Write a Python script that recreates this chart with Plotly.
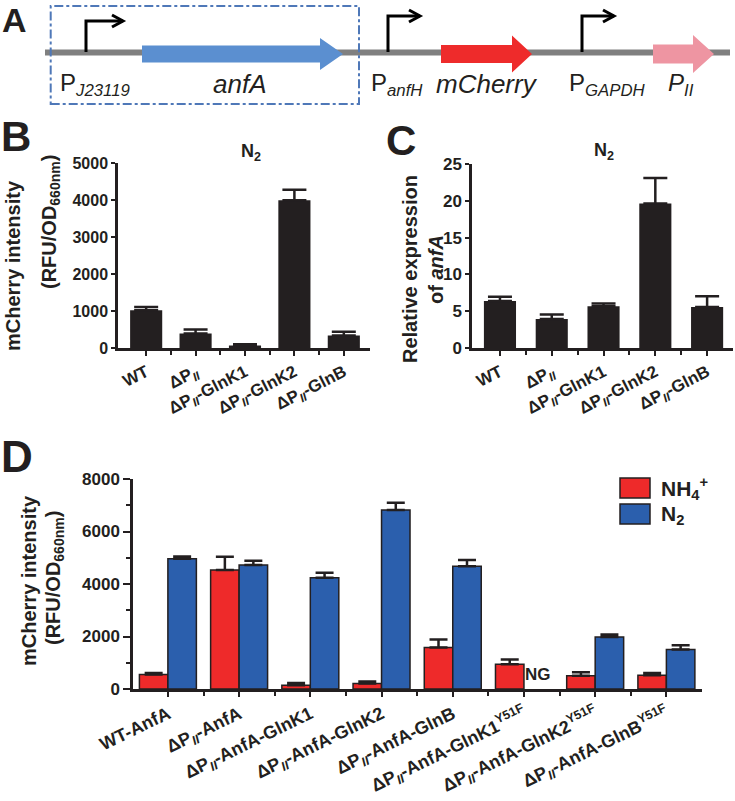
import plotly.graph_objects as go

W, H = 735, 801
INK = "#231F20"
RED = "#EE2A2A"
BLUE = "#2B5FAD"
FONT = "Liberation Sans"

# ---- data ----
b_labels = ["WT", "ΔP<sub><i>II</i></sub>", "ΔP<sub><i>II</i></sub>-GlnK1",
            "ΔP<sub><i>II</i></sub>-GlnK2", "ΔP<sub><i>II</i></sub>-GlnB"]
b_values = [1020, 390, 70, 3990, 340]
b_errors = [90, 110, 30, 290, 100]

c_labels = b_labels
c_values = [6.4, 3.95, 5.67, 19.65, 5.58]
c_errors = [0.55, 0.6, 0.36, 3.45, 1.45]

d_labels = ["WT-AnfA", "ΔP<sub><i>II</i></sub>-AnfA", "ΔP<sub><i>II</i></sub>-AnfA-GlnK1",
            "ΔP<sub><i>II</i></sub>-AnfA-GlnK2", "ΔP<sub><i>II</i></sub>-AnfA-GlnB",
            "ΔP<sub><i>II</i></sub>-AnfA-GlnK1<sup>Y51F</sup>",
            "ΔP<sub><i>II</i></sub>-AnfA-GlnK2<sup>Y51F</sup>",
            "ΔP<sub><i>II</i></sub>-AnfA-GlnB<sup>Y51F</sup>"]
d_nh4 = [550, 4530, 140, 205, 1580, 940, 500, 520]
d_nh4_err = [60, 510, 90, 85, 305, 180, 140, 90]
d_n2 = [4960, 4720, 4240, 6820, 4680, None, 1980, 1500]
d_n2_err = [90, 170, 190, 280, 230, 0, 95, 170]


def px(x):
    return x / W


def py(y):
    return 1 - y / H


def err(arr, w):
    return dict(type="data", symmetric=False, array=arr, arrayminus=[0] * len(arr),
                color=INK, thickness=2.5, width=w)


fig = go.Figure()

fig.add_trace(go.Bar(x=list(range(len(b_values))), y=b_values, width=0.65,
                     marker=dict(color=INK), error_y=err(b_errors, 12),
                     xaxis="x", yaxis="y", showlegend=False))
fig.add_trace(go.Bar(x=list(range(len(c_values))), y=c_values, width=0.62,
                     marker=dict(color=INK), error_y=err(c_errors, 12),
                     xaxis="x2", yaxis="y2", showlegend=False))
fig.add_trace(go.Bar(x=list(range(len(d_nh4))), y=d_nh4, width=0.4, offset=-0.4,
                     marker=dict(color=RED, line=dict(color=INK, width=1.5)),
                     error_y=err(d_nh4_err, 9), xaxis="x3", yaxis="y3", showlegend=False))
fig.add_trace(go.Bar(x=list(range(len(d_n2))), y=d_n2, width=0.4, offset=0,
                     marker=dict(color=BLUE, line=dict(color=INK, width=1.5)),
                     error_y=err(d_n2_err, 9), xaxis="x3", yaxis="y3", showlegend=False))

axis = dict(showline=True, linecolor=INK, linewidth=2.5, ticks="outside", tickcolor=INK,
            tickwidth=2, ticklen=5, showgrid=False, zeroline=False, automargin=False,
            tickfont=dict(family=FONT, size=16, color=INK, weight="bold"))


def xcat(labels, rng, dom, size, anchor, angle):
    n = len(labels)
    return dict(axis, domain=dom, range=rng, anchor=anchor, tickmode="array",
                tickvals=list(range(n)), ticktext=labels, tickangle=angle,
                tickfont=dict(family=FONT, size=size, color=INK, weight="bold"),
                minor=dict(tickmode="array", tickvals=[i + 0.5 for i in range(n - 1)],
                           ticks="outside", ticklen=4, tickwidth=2, tickcolor=INK))


fig.update_layout(
    width=W, height=H, margin=dict(l=0, r=0, t=0, b=0, autoexpand=False),
    template="none",
    paper_bgcolor="white", plot_bgcolor="white", barmode="overlay",
    font=dict(family=FONT, color=INK),
    xaxis=xcat(b_labels, [-0.57, 4.53], [px(118), px(370)], 17, "y", -27),
    yaxis=dict(axis, domain=[py(348), py(163)], range=[0, 5000], dtick=1000, ticklen=4,
               anchor="x"),
    xaxis2=xcat(c_labels, [-0.54, 4.5], [px(472), px(733)], 17, "y2", -27),
    yaxis2=dict(axis, domain=[py(348), py(164)], range=[0, 25], dtick=5, ticklen=4,
                anchor="x2", tickfont=dict(family=FONT, size=17, color=INK, weight="bold")),
    xaxis3=xcat(d_labels, [-0.49, 7.5], [px(133), px(702)], 18, "y3", -26),
    yaxis3=dict(axis, domain=[py(689), py(479)], range=[0, 8000], dtick=2000, ticklen=7,
                anchor="x3", tickfont=dict(family=FONT, size=17, color=INK, weight="bold"),
                minor=dict(dtick=1000, ticks="outside", ticklen=4, tickwidth=2, tickcolor=INK)),
)

shapes = []
# ---- panel A diagram ----
shapes.append(dict(type="line", xref="paper", yref="paper", x0=px(45), x1=px(730),
                   y0=py(52.5), y1=py(52.5), line=dict(color="#808080", width=6)))
shapes.append(dict(type="rect", xref="paper", yref="paper", x0=px(50.7), x1=px(359),
                   y0=py(104), y1=py(6), line=dict(color="#4F78B8", width=2, dash="dashdot")))

genes = [  # x start, head start, tip, body half, head half, colour
    (142, 320, 343, 8.5, 16, "#5B8FD0"),
    (441, 512, 532, 9, 18.5, "#EE2B2B"),
    (653, 693, 714, 9.5, 19, "#EE95A2"),
]
cy = 54
for x0, xh, xt, hb, hh, col in genes:
    pts = [(x0, cy - hb), (xh, cy - hb), (xh, cy - hh), (xt, cy), (xh, cy + hh),
           (xh, cy + hb), (x0, cy + hb)]
    path = "M " + " L ".join(f"{px(a):.5f},{py(b):.5f}" for a, b in pts) + " Z"
    shapes.append(dict(type="path", xref="paper", yref="paper", path=path,
                       fillcolor=col, line=dict(width=0)))

promoters = [(86, 21, 123), (388, 16, 420), (582, 16, 614)]
for xv, top, xe in promoters:
    p1 = f"M {px(xv):.5f},{py(52):.5f} L {px(xv):.5f},{py(top):.5f} L {px(xe):.5f},{py(top):.5f}"
    p2 = (f"M {px(xe - 11):.5f},{py(top - 6):.5f} L {px(xe):.5f},{py(top):.5f} "
          f"L {px(xe - 11):.5f},{py(top + 6):.5f}")
    for p in (p1, p2):
        shapes.append(dict(type="path", xref="paper", yref="paper", path=p,
                           line=dict(color="black", width=3)))

# legend boxes for panel D
shapes.append(dict(type="rect", xref="paper", yref="paper", x0=px(620), x1=px(650),
                   y0=py(498), y1=py(478), fillcolor=RED, line=dict(color=INK, width=1.5)))
shapes.append(dict(type="rect", xref="paper", yref="paper", x0=px(620), x1=px(650),
                   y0=py(524), y1=py(504), fillcolor=BLUE, line=dict(color=INK, width=1.5)))

fig.update_layout(shapes=shapes)


def ann(text, x, y, size, xa="center", ya="middle", angle=0, bold=True):
    fig.add_annotation(text=text, x=px(x), y=py(y), xref="paper", yref="paper",
                       xanchor=xa, yanchor=ya, textangle=angle, showarrow=False,
                       font=dict(family=FONT, size=size, color=INK,
                                 weight="bold" if bold else "normal"))


# panel letters
ann("A", 15, 20, 34)
ann("B", 16, 137, 42)
ann("C", 401, 140, 42)
ann("D", 17, 457, 44)

# panel A labels
ann("P<sub><i>J23119</i></sub>", 58, 84, 24, xa="left", bold=False)
ann("<i>anfA</i>", 240, 84, 26, bold=False)
ann("P<sub><i>anfH</i></sub>", 369, 84, 24, xa="left", bold=False)
ann("<i>mCherry</i>", 434, 84, 26, xa="left", bold=False)
ann("P<sub><i>GAPDH</i></sub>", 567, 84, 24, xa="left", bold=False)
ann("<i>P<sub>II</sub></i>", 666, 84, 24, xa="left", bold=False)

# titles
ann("N<sub>2</sub>", 251, 152, 18)
ann("N<sub>2</sub>", 604, 151, 18)

# y-axis titles
ann("mCherry intensity", 13, 266, 20, angle=-90)
ann("(RFU/OD<sub>660nm</sub>)", 50, 222, 20, angle=-90)
ann("Relative expression", 410, 269, 20, angle=-90)
ann("of <i>anfA</i>", 436, 270, 20, angle=-90)
ann("mCherry intensity", 29, 581, 20, angle=-90)
ann("(RFU/OD<sub>660nm</sub>)", 54, 578, 20, angle=-90)

# legend text
ann("NH<sub>4</sub><sup>+</sup>", 659, 488, 21, xa="left")
ann("N<sub>2</sub>", 659, 515, 21, xa="left")

# no-growth marker
fig.add_annotation(text="NG", x=5.2, y=0, xref="x3", yref="y3", yanchor="bottom",
                   yshift=3, showarrow=False,
                   font=dict(family=FONT, size=17, color=INK, weight="bold"))

fig.write_html("out.html", config={"displayModeBar": False},
               post_script="document.body.style.margin='0';")
